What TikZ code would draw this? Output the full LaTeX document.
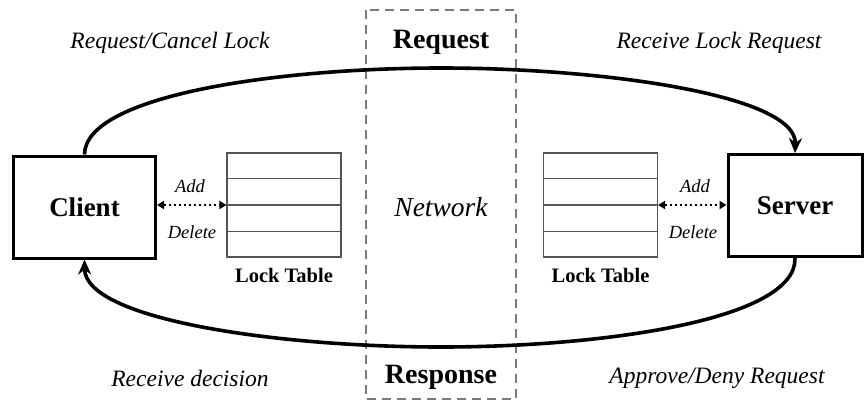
\documentclass[tikz,border=0pt]{standalone}
\usepackage{fontspec}
\setmainfont{Liberation Serif}
\usetikzlibrary{arrows.meta,calc}
\definecolor{dashgray}{HTML}{7A7A7A}
\definecolor{tablegray}{HTML}{555555}
\tikzset{
  party/.style={draw, line width=3pt, minimum width=142pt, minimum height=102pt,
    font=\fontsize{27}{29}\selectfont\bfseries, inner sep=0pt},
  locktable/.style={draw=tablegray, line width=1.1pt, minimum width=114pt, minimum height=104pt, inner sep=0pt},
  rowline/.style={draw=tablegray, line width=1.1pt},
  flow/.style={line width=3.6pt, -{Stealth[length=15pt,width=13pt]}},
  dotarrow/.style={line width=2.6pt, dash pattern=on 2.6pt off 2.4pt,
    {Triangle[length=7pt,width=8pt]}-{Triangle[length=7pt,width=8pt]}},
  netbox/.style={draw=dashgray, line width=2.6pt, dash pattern=on 9pt off 6pt},
  caption/.style={font=\fontsize{23.5}{25}\selectfont\itshape},
  small/.style={font=\fontsize{18.5}{20}\selectfont\itshape},
  tabtitle/.style={font=\fontsize{20.5}{22}\selectfont\bfseries},
  zone/.style={font=\fontsize{28}{30}\selectfont\bfseries}
}
\begin{document}
\begin{tikzpicture}[x=1pt,y=-1pt]
\useasboundingbox (0,0) rectangle (864,399);

% network region
\draw[netbox] (366,10) rectangle (516,399);
\node[zone] (req) at (441,42) {Request};
\node[zone] (resp) at (441,377) {Response};
\node[font=\fontsize{27.5}{29}\selectfont\itshape] (net) at (441,207) {Network};

% parties
\node[party] (client) at (84.5,207) {Client};
\node[party, minimum width=134pt] (server) at (795,205.5) {Server};

% lock tables
\node[locktable] (tabL) at (284,205) {};
\node[locktable] (tabR) at (600.5,205) {};
\foreach \t in {tabL,tabR}{
  \foreach \f in {0.25,0.5,0.75}{
    \draw[rowline] ($(\t.north west)!\f!(\t.south west)$) -- ($(\t.north east)!\f!(\t.south east)$);
  }
}
\node[tabtitle] (ltL) at (284,275) {Lock Table};
\node[tabtitle] (ltR) at (600.5,275) {Lock Table};

% add/delete links
\draw[dotarrow] (client.east |- tabL.west) -- (tabL.west);
\draw[dotarrow] (tabR.east) -- (server.west |- tabR.east);
\node[small] (addL) at (190,186) {Add};
\node[small] (delL) at (192,232) {Delete};
\node[small] (addR) at (695,186) {Add};
\node[small] (delR) at (693,232) {Delete};

% request and response flows
\coordinate (top) at (441,68);
\coordinate (bot) at (441,347);
\draw[flow] (client.north) .. controls (85,95) and (280,68) .. (top)
  .. controls (602,68) and (797,95) .. (server.north);
\draw[flow] (server.south) .. controls (797,320) and (602,347) .. (bot)
  .. controls (280,347) and (85,320) .. (client.south);

% flow captions
\node[caption] (c1) at (170,43) {Request/Cancel Lock};
\node[caption] (c2) at (719,43) {Receive Lock Request};
\node[caption] (c3) at (190,378) {Receive decision};
\node[caption] (c4) at (717,378) {Approve/Deny Request};
\end{tikzpicture}
\end{document}
